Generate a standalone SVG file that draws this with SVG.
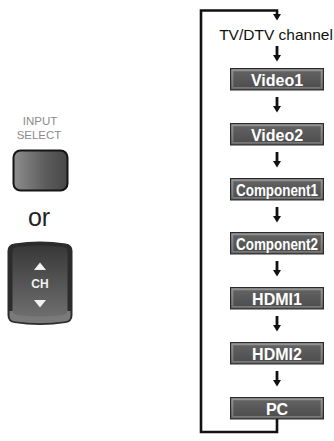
<svg xmlns="http://www.w3.org/2000/svg" width="334" height="441" viewBox="0 0 334 441">
<style>
.lbl{font-family:"Liberation Sans",Arial,sans-serif;font-weight:bold;font-size:16px;fill:#ffffff;text-anchor:middle}
.line{fill:none;stroke:#111;stroke-width:2.6}
.arr{stroke:#111;stroke-width:2.8;fill:none}
.head{fill:#111}
.cap{font-family:"Liberation Sans",Arial,sans-serif;font-size:11.5px;fill:#8a8a8a;text-anchor:middle}
</style>
<defs>
<linearGradient id="bev" x1="0" y1="0" x2="0" y2="1">
<stop offset="0" stop-color="#9a9a9a"/><stop offset="1" stop-color="#6a6a6a"/>
</linearGradient>
<linearGradient id="face" x1="0" y1="0" x2="0" y2="1">
<stop offset="0" stop-color="#626262"/><stop offset="1" stop-color="#4e4e4e"/>
</linearGradient>
<linearGradient id="btn" x1="0" y1="0" x2="1" y2="0">
<stop offset="0" stop-color="#8e8e8e"/><stop offset="0.6" stop-color="#5c5c5c"/><stop offset="1" stop-color="#474747"/>
</linearGradient>
<linearGradient id="rock" x1="0" y1="0" x2="0" y2="1">
<stop offset="0" stop-color="#383838"/><stop offset="1" stop-color="#6e6e6e"/>
</linearGradient>
<g id="box">
<rect x="0" y="0" width="94" height="22.5" fill="#2a2a2a"/>
<rect x="1.2" y="1.2" width="91.6" height="20.1" fill="url(#bev)"/>
<rect x="3" y="3" width="88" height="16.5" fill="url(#face)" stroke="#8a8a8a" stroke-width="0.6"/>
</g>
<g id="ar">
<line x1="0" y1="0" x2="0" y2="10" class="arr"/>
<path d="M-4 9 L4 9 L0 15.5 Z" class="head"/>
</g>
</defs>

<g id="input-select">
<text class="cap" x="40" y="125">INPUT</text>
<text class="cap" x="39" y="138.5">SELECT</text>
<rect x="13.5" y="150.5" width="54" height="40" rx="7" fill="url(#btn)" stroke="#151515" stroke-width="2"/>
</g>

<g id="or-text">
<text x="39" y="226" font-family="'Liberation Sans',Arial,sans-serif" font-size="25" fill="#222" text-anchor="middle">or</text>
</g>

<g id="ch-rocker">
<path d="M7.5 251 Q7.5 244.5 14.5 243.5 Q40 239.5 65.5 243.5 Q72.5 244.5 72.5 251 L72.5 315 Q72.5 322 65.5 323 Q40 327 14.5 323 Q7.5 322 7.5 315 Z" fill="#2c2c2c"/>
<path d="M9.5 311 L9.5 316 Q9.5 321 15.5 321.5 Q40 325 64.5 321.5 Q70.5 321 70.5 316 L70.5 311 Z" fill="#7a7a7a"/>
<path d="M12.5 252 Q12.5 247.5 17 247 Q40 244 63 247 Q67.5 247.5 67.5 252 L67.5 310 Q67.5 314.5 63 315 Q40 318 17 315 Q12.5 314.5 12.5 310 Z" fill="url(#rock)"/>
<path d="M34 270 L46 270 L40 262.5 Z" fill="#f2f2f2"/>
<text x="40" y="287.5" font-family="'Liberation Sans',Arial,sans-serif" font-size="12" font-weight="bold" fill="#f2f2f2" text-anchor="middle">CH</text>
<path d="M34 300 L46 300 L40 307.5 Z" fill="#f2f2f2"/>
</g>

<g id="tv-dtv">
<text x="276" y="40" font-family="'Liberation Sans',Arial,sans-serif" font-size="15.5" fill="#111" text-anchor="middle">TV/DTV channel</text>
</g>

<g id="video1"><use href="#box" x="230" y="68"/><text class="lbl" x="277" y="85.5">Video1</text></g>
<g id="video2"><use href="#box" x="230" y="123"/><text class="lbl" x="277" y="140.5">Video2</text></g>
<g id="component1"><use href="#box" x="230" y="178"/><text class="lbl" x="277" y="195.5" textLength="82" lengthAdjust="spacingAndGlyphs">Component1</text></g>
<g id="component2"><use href="#box" x="230" y="232"/><text class="lbl" x="277" y="249.5" textLength="82" lengthAdjust="spacingAndGlyphs">Component2</text></g>
<g id="hdmi1"><use href="#box" x="230" y="287"/><text class="lbl" x="277" y="304.5">HDMI1</text></g>
<g id="hdmi2"><use href="#box" x="230" y="342"/><text class="lbl" x="277" y="359.5">HDMI2</text></g>
<g id="pc"><use href="#box" x="230" y="397"/><text class="lbl" x="277" y="414.5">PC</text></g>

<g id="connectors">
<path d="M277 419 L277 432 L201 432 L201 10.5 L277 10.5 L277 15" class="line"/>
<path d="M273 14 L281 14 L277 20.5 Z" class="head"/>
<use href="#ar" x="277" y="46"/>
<use href="#ar" x="277" y="97"/>
<use href="#ar" x="277" y="152"/>
<use href="#ar" x="277" y="207"/>
<use href="#ar" x="277" y="261"/>
<use href="#ar" x="277" y="316"/>
<use href="#ar" x="277" y="371"/>
</g>
</svg>
